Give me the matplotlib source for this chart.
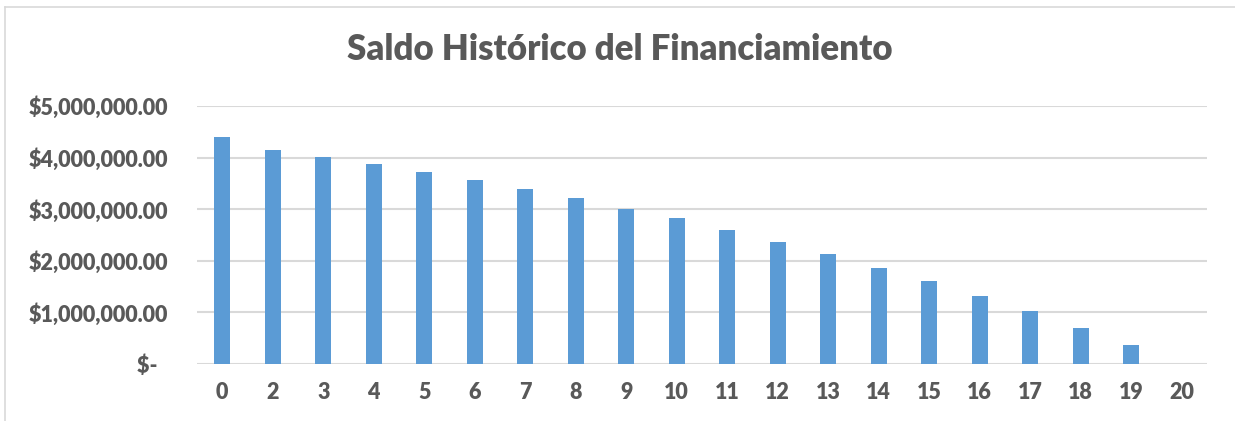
import matplotlib.pyplot as plt
from matplotlib.lines import Line2D
from matplotlib.ticker import FuncFormatter

# Datos
periodos = ['0', '2', '3', '4', '5', '6', '7', '8', '9', '10',
            '11', '12', '13', '14', '15', '16', '17', '18', '19', '20']
saldos = [4390000, 4140000, 4010000, 3870000, 3720000, 3560000, 3390000,
          3210000, 3010000, 2820000, 2600000, 2370000, 2130000, 1870000,
          1610000, 1320000, 1020000, 700000, 360000, 0]

gris = '#595959'
azul = '#5B9BD5'

fig = plt.figure(figsize=(12.35, 4.21), dpi=100)
ax = fig.add_axes([197 / 1235, 1 - 364 / 421, 1010 / 1235, 258 / 421])

x = range(len(periodos))
ax.bar(x, saldos, width=0.32, color=azul, zorder=3)
ax.set_xlim(-0.5, len(periodos) - 0.5)
ax.set_ylim(0, 5000000)
ax.set_yticks([0, 1000000, 2000000, 3000000, 4000000, 5000000])


def moneda(v, pos):
    if v == 0:
        return '$-  '  # formato contable: el guion queda a la izquierda
    return '${:,.2f}'.format(v)


ax.yaxis.set_major_formatter(FuncFormatter(moneda))
ax.set_xticks(list(x))
ax.set_xticklabels(periodos)

for lbl in ax.get_xticklabels() + ax.get_yticklabels():
    lbl.set_fontfamily('Lato')
    lbl.set_fontweight('heavy')
    lbl.set_fontsize(15.5)
    lbl.set_color(gris)

ax.tick_params(axis='both', length=0)
ax.tick_params(axis='x', pad=13)
ax.tick_params(axis='y', pad=21)
ax.grid(axis='y', color='#D9D9D9', linewidth=1.5, zorder=0)
for s in ax.spines.values():
    s.set_visible(False)

fig.text(620 / 1235, 1 - 50 / 421, 'Saldo Histórico del Financiamiento',
         ha='center', va='center', fontsize=25, fontweight='heavy',
         color=gris, family='Lato')

# borde del área del gráfico
fig.add_artist(Line2D([5 / 1235, 1], [1 - 7 / 421, 1 - 7 / 421],
                      color='#D9D9D9', linewidth=1.2))
fig.add_artist(Line2D([5 / 1235, 5 / 1235], [0, 1 - 7 / 421],
                      color='#D9D9D9', linewidth=1.2))

fig.savefig('out.png', dpi=100, facecolor='white')
